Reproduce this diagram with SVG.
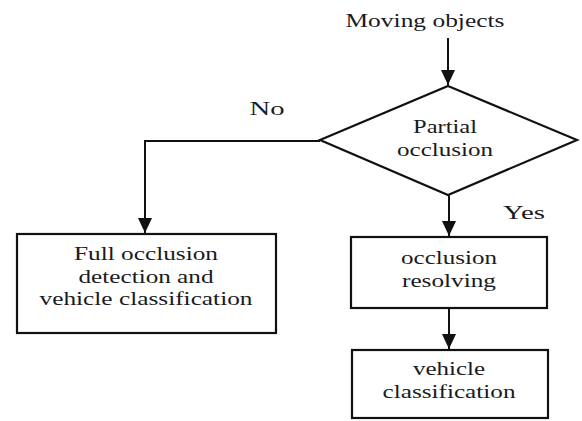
<svg xmlns="http://www.w3.org/2000/svg" width="582" height="421" viewBox="0 0 582 421">
<defs>
<marker id="arr" markerWidth="16" markerHeight="14" refX="15" refY="7" orient="auto" markerUnits="userSpaceOnUse">
<path d="M0,0 L15,7 L0,14 Z" fill="#111"/>
</marker>
<style>
.t{font-family:'Liberation Serif','DejaVu Serif','Times New Roman',serif;font-size:18px;fill:#1a1a22;text-anchor:middle}
.s{fill:#fff;stroke:#111;stroke-width:2.2}
.c{fill:none;stroke:#111;stroke-width:2}
</style>
</defs>
<rect width="582" height="421" fill="#fff"/>
<g id="connectors">
<path class="c" d="M448,38 V85" marker-end="url(#arr)"/>
<path class="c" d="M320,141 H145 V233" marker-end="url(#arr)"/>
<path class="c" d="M449,195 V236" marker-end="url(#arr)"/>
<path class="c" d="M449,308 V349" marker-end="url(#arr)"/>
</g>
<g id="start"><text class="t" font-family="Liberation Serif, serif" x="425" y="27" textLength="159" lengthAdjust="spacingAndGlyphs">Moving objects</text></g>
<g id="decision">
<polygon class="s" points="448,86 577,140 448,195 320,140"/>
<text class="t" x="445" y="133" textLength="64" lengthAdjust="spacingAndGlyphs">Partial</text>
<text class="t" x="445" y="156" textLength="96" lengthAdjust="spacingAndGlyphs">occlusion</text>
</g>
<g id="label-no"><text class="t" x="267" y="115" textLength="35" lengthAdjust="spacingAndGlyphs">No</text></g>
<g id="label-yes"><text class="t" x="524" y="219" textLength="42" lengthAdjust="spacingAndGlyphs">Yes</text></g>
<g id="full">
<rect class="s" x="17" y="234" width="259" height="99"/>
<text class="t" x="146" y="260" textLength="144" lengthAdjust="spacingAndGlyphs">Full occlusion</text>
<text class="t" x="146" y="283" textLength="135" lengthAdjust="spacingAndGlyphs">detection and</text>
<text class="t" x="146" y="305" textLength="213" lengthAdjust="spacingAndGlyphs">vehicle classification</text>
</g>
<g id="resolve">
<rect class="s" x="351" y="237" width="196" height="71"/>
<text class="t" x="449" y="264" textLength="96" lengthAdjust="spacingAndGlyphs">occlusion</text>
<text class="t" x="449" y="287" textLength="94" lengthAdjust="spacingAndGlyphs">resolving</text>
</g>
<g id="classify">
<rect class="s" x="352" y="350" width="196" height="68"/>
<text class="t" x="449" y="375" textLength="72" lengthAdjust="spacingAndGlyphs">vehicle</text>
<text class="t" x="449" y="398" textLength="133" lengthAdjust="spacingAndGlyphs">classification</text>
</g>
</svg>
